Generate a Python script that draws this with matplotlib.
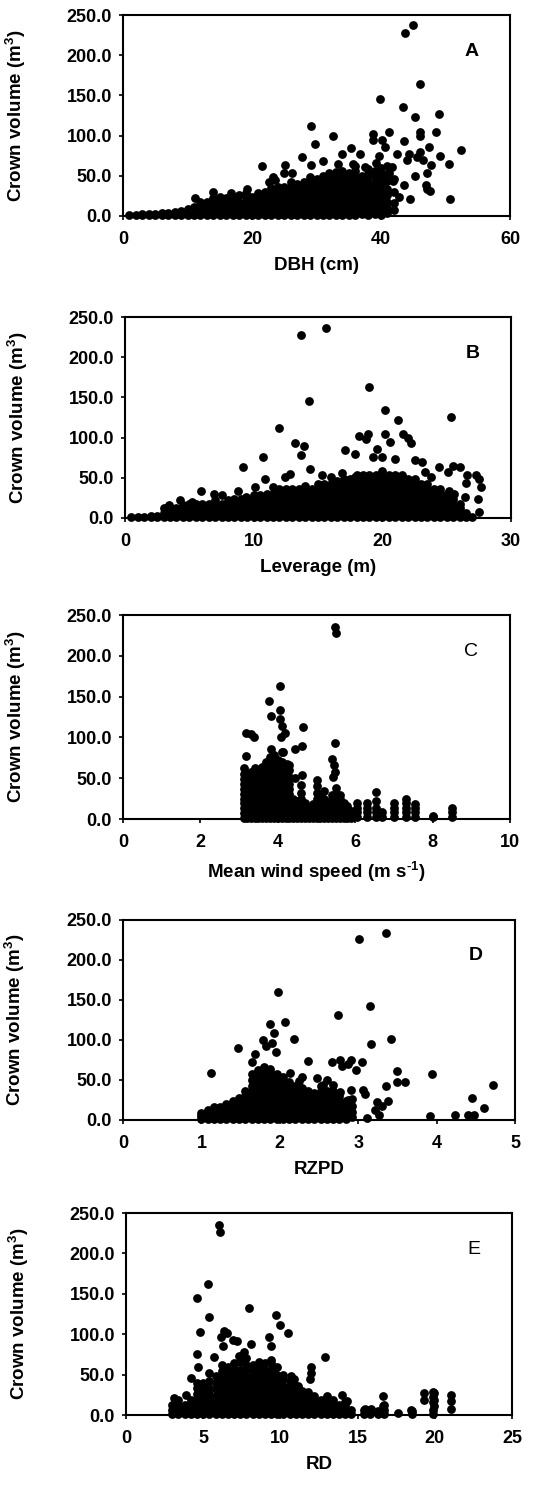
import matplotlib.pyplot as plt
from matplotlib.ticker import FormatStrFormatter

plt.rcParams['font.family'] = ['Liberation Sans', 'DejaVu Sans']
plt.rcParams['font.weight'] = 'bold'
plt.rcParams['mathtext.fontset'] = 'custom'
plt.rcParams['mathtext.rm'] = 'Liberation Sans:bold'
plt.rcParams['mathtext.bf'] = 'Liberation Sans:bold'
plt.rcParams['mathtext.default'] = 'rm'
plt.rcParams['axes.unicode_minus'] = False

# ---- A: DBH (cm) ----
dbh_cols = [1, 2, 3, 4, 5, 6, 7, 8, 9, 10, 11, 12, 13, 14, 15, 16, 17, 18, 19, 20, 21,
            22, 23, 24, 25, 26, 27, 28, 29, 30, 31, 32, 33, 34, 35, 36, 37, 38, 39, 40, 41, 42]
dbh_stack = [[1], [1], [1, 2], [1, 3], [1, 3], [1, 4], [1, 4], [1, 5], [1, 6], [1, 5, 9],
             [1, 6, 11], [1, 6, 12, 18], [1, 6, 12, 17], [1, 6, 12, 18, 22], [1, 6, 12, 18, 24],
             [1, 6, 12, 18, 23], [1, 6, 12, 18, 24], [1, 6, 12, 18, 26], [1, 6, 12, 18, 24, 28],
             [1, 6, 12, 18, 24], [1, 6, 12, 18, 24, 28], [1, 6, 12, 18, 24, 30],
             [1, 6, 12, 18, 24, 30, 35], [1, 6, 12, 18, 24, 30, 36], [1, 6, 12, 18, 24, 30, 36],
             [1, 6, 12, 18, 24, 30, 36, 42], [1, 6, 12, 18, 24, 30, 36, 40],
             [1, 6, 12, 18, 24, 30, 36, 42], [1, 6, 12, 18, 24, 30, 36, 42, 48],
             [1, 6, 12, 18, 24, 30, 36, 42, 46], [1, 6, 12, 18, 24, 30, 36, 42, 50],
             [1, 6, 12, 18, 24, 30, 36, 42, 48, 54], [1, 6, 12, 18, 24, 30, 36, 42, 48, 55],
             [1, 6, 12, 18, 24, 30, 36, 42, 48, 56], [1, 6, 12, 18, 24, 30, 36, 42, 48, 54],
             [1, 6, 12, 18, 24, 30, 36, 42, 48, 56, 62], [3, 8, 14, 20, 26, 32, 38, 44, 50],
             [1, 6, 12, 18, 24, 30, 36, 44, 52, 58], [2, 8, 14, 20, 26, 32, 40, 48, 56],
             [1, 6, 12, 18, 24, 30, 38, 46, 54, 60], [4, 10, 18, 26, 34, 44, 52, 62], [8, 16, 30, 46]]
dbh_out = [43.7, 45.0, 46.1, 39.8, 43.4, 45.3, 49.0, 29.1, 32.5, 29.8, 38.7, 38.7, 40.2, 41.3,
           46.1, 46.1, 48.5, 43.5, 40.6, 47.5, 52.4, 49.1, 50.6, 47.8, 47.2, 45.3, 43.6, 46.9,
           47.6, 47.2, 42.8, 44.5, 50.7, 45.6, 44.4, 44.0, 46.5, 46.0, 42.5, 41.7, 41.3, 41.9,
           39.7, 39.2, 27.8, 25.1, 21.6, 23.2, 22.7, 23.6, 29.1, 31.0, 33.9, 35.3, 36.8, 33.4,
           35.7, 37.5, 26.2, 25.0, 14.0, 19.2, 16.7, 11.2]
vol_a_out = [228, 237, 164, 146, 135, 123, 127, 112, 99, 89, 102, 94, 95, 104, 104, 99, 104, 93,
             86, 86, 82, 75, 65, 63, 54, 50, 38, 38, 31, 33, 24, 21, 21, 73, 77, 70, 70, 79, 77,
             61, 53, 43, 75, 66, 74, 64, 62, 49, 42, 45, 63, 68, 77, 84, 77, 65, 65, 61, 53, 53,
             30, 34, 28, 22]

# ---- B: Leverage (m) ----
lev_cols = [0.5, 1.0, 1.5, 2.0, 2.5, 3.0, 3.5, 4.0, 4.5, 5.0, 5.5, 6.0, 6.5, 7.0, 7.5, 8.0, 8.5,
            9.0, 9.5, 10.0, 10.5, 11.0, 11.5, 12.0, 12.5, 13.0, 13.5, 14.0, 14.5, 15.0, 15.5,
            16.0, 16.5, 17.0, 17.5, 18.0, 18.5, 19.0, 19.5, 20.0, 20.5, 21.0, 21.5, 22.0, 22.5,
            23.0, 23.5, 24.0, 24.5, 25.0, 25.5, 26.0, 26.5, 27.0]
lev_stack = [[1], [1], [1], [1, 3], [1, 3], [1, 6, 12], [1, 6, 12], [1, 6, 12], [1, 6, 12, 16],
             [1, 6, 12, 18], [1, 6, 12, 18], [1, 6, 12, 18], [1, 6, 12, 18], [1, 6, 12, 18, 22],
             [1, 6, 12, 18], [1, 6, 12, 18, 22], [1, 6, 12, 18, 24], [1, 6, 12, 18, 24],
             [1, 6, 12, 18, 24], [1, 6, 12, 18, 24, 28], [1, 6, 12, 18, 24, 28],
             [1, 6, 12, 18, 24, 30], [1, 6, 12, 18, 24, 30], [1, 6, 12, 18, 24, 30, 36],
             [1, 6, 12, 18, 24, 30, 36], [1, 6, 12, 18, 24, 30, 36], [1, 6, 12, 18, 24, 30, 36],
             [1, 6, 12, 18, 24, 30, 36, 40], [1, 6, 12, 18, 24, 30, 36],
             [1, 6, 12, 18, 24, 30, 36, 42], [1, 6, 12, 18, 24, 30, 36, 42],
             [1, 6, 12, 18, 24, 30, 36, 42], [1, 6, 12, 18, 24, 30, 36, 42, 46],
             [1, 6, 12, 18, 24, 30, 36, 42, 48], [1, 6, 12, 18, 24, 30, 36, 42, 48],
             [1, 6, 12, 18, 24, 30, 36, 42, 48, 54], [1, 6, 12, 18, 24, 30, 36, 42, 48, 54],
             [1, 6, 12, 18, 24, 30, 36, 42, 48, 54], [1, 6, 12, 18, 24, 30, 36, 42, 48, 54],
             [1, 6, 12, 18, 24, 30, 36, 42, 48, 54, 58], [1, 6, 12, 18, 24, 30, 36, 42, 48, 54],
             [1, 6, 12, 18, 24, 30, 36, 42, 48, 54], [1, 6, 12, 18, 24, 30, 36, 42, 48, 54],
             [1, 6, 12, 18, 24, 30, 36, 42, 48], [1, 6, 12, 18, 24, 30, 36, 42, 48],
             [1, 6, 12, 18, 24, 30, 36, 42], [1, 6, 12, 18, 24, 30, 36, 42],
             [1, 6, 12, 18, 24, 30, 36], [1, 6, 12, 18, 24, 30, 36], [1, 6, 12, 18, 24, 30],
             [1, 6, 12, 18, 24], [1, 6, 12, 18], [1, 6], [1]]
lev_out = [13.7, 15.6, 14.3, 12.0, 19.0, 20.2, 21.2, 25.3, 9.2, 10.7, 13.2, 13.9, 13.7, 18.9,
           18.2, 18.7, 20.2, 20.6, 21.6, 22.0, 22.2, 19.6, 17.9, 17.1, 19.3, 20.0, 21.0, 22.5,
           23.1, 14.4, 12.4, 12.8, 5.9, 6.9, 7.5, 8.8, 9.4, 10.1, 10.9, 11.5, 15.3, 16.0, 16.9,
           24.4, 25.1, 25.5, 26.0, 26.6, 27.3, 27.5, 27.7, 27.4, 27.5, 26.5, 26.4, 25.2, 25.6,
           23.8, 23.3, 17.6, 17.9, 4.3, 5.2, 3.4]
vol_b_out = [228, 236, 146, 112, 163, 134, 122, 126, 63, 76, 93, 89, 78, 104, 102, 98, 105, 94,
             105, 99, 93, 86, 79, 84, 76, 76, 74, 72, 70, 61, 51, 55, 34, 30, 29, 34, 26, 39, 49,
             39, 54, 51, 56, 63, 57, 65, 63, 53, 53, 48, 39, 24, 8, 43, 26, 34, 30, 51, 57, 45,
             51, 22, 20, 16]

# ---- C: Mean wind speed (m/s) ----
wind_cols = [3.12, 3.2, 3.3, 3.4, 3.5, 3.6, 3.7, 3.8, 3.9, 4.0, 4.1, 4.2, 4.3, 4.4, 4.5, 4.6,
             4.7, 4.8, 4.9, 5.0, 5.1, 5.2, 5.3, 5.4, 5.5, 5.6, 5.7, 5.8, 5.9, 6.05, 6.3, 6.55,
             6.7, 7.0, 7.3, 7.55, 8.0, 8.5]
wind_stack = [[1, 7, 13, 19, 25, 31, 37, 43, 49, 55, 62], [1, 7, 13, 19, 25, 31, 37, 43, 49, 55],
              [1, 7, 13, 19, 25, 31, 37, 43, 50, 58], [1, 7, 13, 19, 25, 31, 37, 43, 49, 55, 62],
              [1, 7, 13, 19, 25, 31, 37, 43, 49, 56], [1, 7, 13, 19, 25, 31, 37, 43, 49, 55, 64],
              [1, 7, 13, 19, 25, 31, 37, 43, 49, 55, 62, 70],
              [1, 7, 13, 19, 25, 31, 37, 43, 49, 55, 62, 70, 76],
              [1, 7, 13, 19, 25, 31, 37, 43, 49, 55, 62, 70, 78],
              [1, 7, 13, 19, 25, 31, 37, 43, 49, 55, 62, 72],
              [1, 7, 13, 19, 25, 31, 37, 43, 49, 55, 62, 70, 82],
              [1, 7, 13, 19, 25, 31, 37, 43, 49, 55, 66], [1, 7, 13, 19, 25, 31, 37, 43, 52, 60],
              [1, 7, 13, 19, 25], [1, 7, 13, 19, 22], [1, 7, 13, 19, 25, 32, 42], [1, 7, 13, 20],
              [1, 7, 14], [1, 7, 13, 18], [1, 7, 13, 19, 25, 32, 40, 48], [1, 7, 13, 19, 25, 30],
              [1, 7, 13, 19, 25, 34], [1, 7, 13, 18], [1, 7, 13, 19, 25, 30],
              [1, 7, 13, 19, 25, 31, 38], [1, 7, 13, 19, 25, 30], [1, 7, 13, 20], [1, 7, 13, 16],
              [1, 6, 10], [2, 8, 14, 20], [2, 8, 14, 20], [2, 8, 14, 22, 33], [2, 8],
              [2, 8, 14, 20], [2, 8, 14, 20, 24], [2, 8, 14, 18], [2, 4], [2, 8, 14]]
wind_out = [5.48, 5.50, 4.06, 3.76, 3.82, 4.06, 4.06, 4.10, 4.19, 4.08, 4.64, 3.18, 3.30, 3.38,
            4.44, 3.82, 4.62, 5.48, 3.18, 4.44, 4.62, 5.41, 5.46, 5.43, 5.48, 4.14, 4.23, 4.30]
vol_c_out = [235, 228, 163, 145, 126, 134, 122, 114, 105, 101, 113, 106, 104, 101, 86, 86, 89,
             93, 77, 50, 54, 74, 66, 52, 58, 82, 67, 66]

# ---- D: RZPD ----
rzpd_cols = [1.0, 1.08, 1.16, 1.24, 1.32, 1.40, 1.48, 1.56, 1.64, 1.72, 1.80, 1.88, 1.96, 2.04,
             2.12, 2.20, 2.28, 2.36, 2.44, 2.52, 2.60, 2.68, 2.76, 2.84, 2.92]
rzpd_stack = [[1, 5, 9], [1, 6, 12], [1, 6, 12, 16], [1, 6, 12, 16], [1, 6, 12, 18],
              [1, 6, 12, 18, 24], [1, 6, 12, 18, 24, 28], [1, 6, 12, 18, 24, 30, 36],
              [1, 6, 12, 18, 24, 30, 36, 42, 50, 58], [1, 6, 12, 18, 24, 30, 36, 42, 48, 56, 62],
              [1, 6, 12, 18, 24, 30, 36, 42, 48, 54, 60, 66],
              [1, 6, 12, 18, 24, 30, 36, 42, 48, 54, 60, 64],
              [1, 6, 12, 18, 24, 30, 36, 42, 48, 54, 58], [1, 6, 12, 18, 24, 30, 36, 42, 48, 54],
              [1, 6, 12, 18, 24, 30, 36, 42, 48], [1, 6, 12, 18, 24, 30, 36, 42],
              [1, 6, 12, 18, 24, 30, 36, 40], [1, 6, 12, 18, 24, 30, 36],
              [1, 6, 12, 18, 24, 30, 34], [1, 6, 12, 18, 24, 30, 36, 42],
              [1, 6, 12, 18, 24, 30, 36], [1, 6, 12, 18, 24, 30, 36, 44], [1, 6, 12, 18, 24, 30],
              [1, 6, 12, 18, 24], [4, 10, 18, 26]]
rzpd_out = [3.01, 3.35, 1.98, 3.15, 2.74, 1.88, 2.07, 1.93, 1.47, 2.18, 3.16, 3.42, 1.12, 1.82,
            1.79, 1.90, 1.68, 1.65, 1.95, 2.36, 2.67, 2.77, 2.87, 2.91, 2.97, 3.05, 2.79, 3.49,
            3.49, 3.60, 3.35, 3.38, 3.94, 3.92, 4.24, 4.40, 4.48, 4.45, 4.60, 4.72, 3.24, 3.21,
            3.30, 3.26, 3.11, 3.06, 3.09, 2.91, 2.77, 2.87, 2.60, 2.55, 2.47, 2.24, 2.28, 2.13,
            1.31]
vol_d_out = [226, 234, 160, 142, 131, 120, 123, 109, 90, 101, 95, 101, 59, 92, 100, 96, 82, 73,
             85, 74, 72, 75, 70, 75, 63, 72, 67, 61, 47, 47, 42, 24, 58, 5, 6, 6, 6, 27, 15, 44,
             23, 12, 17, 6, 3, 37, 33, 37, 35, 25, 50, 44, 53, 49, 54, 59, 20]

# ---- E: RD ----
rd_cols = [3.0, 3.4, 3.8, 4.2, 4.6, 5.0, 5.4, 5.8, 6.2, 6.6, 7.0, 7.4, 7.8, 8.2, 8.6, 9.0, 9.4,
           9.8, 10.2, 10.6, 11.0, 11.4, 11.8, 12.2, 12.6, 13.0, 13.4, 13.8, 14.2, 14.6, 15.4,
           15.8, 16.3, 16.7, 18.5, 19.9]
rd_stack = [[1, 6, 12], [1, 6, 12, 18], [1, 6, 12], [1, 6, 12, 18], [1, 6, 12, 18, 26, 34, 40],
            [1, 6, 12, 18, 24, 32, 40], [1, 6, 12, 18, 26, 34, 42, 52],
            [1, 6, 12, 18, 24, 32, 40, 48], [1, 6, 12, 18, 24, 30, 38, 46, 54, 62],
            [1, 6, 12, 18, 24, 30, 36, 44, 52, 60], [1, 6, 12, 18, 24, 30, 36, 42, 50, 58, 64],
            [1, 6, 12, 18, 24, 30, 36, 42, 48, 56, 66],
            [1, 6, 12, 18, 24, 30, 36, 42, 48, 56, 62, 70],
            [1, 6, 12, 18, 24, 30, 36, 42, 48, 54, 62],
            [1, 6, 12, 18, 24, 30, 36, 42, 48, 54, 62, 66],
            [1, 6, 12, 18, 24, 30, 36, 42, 48, 56, 64],
            [1, 6, 12, 18, 24, 30, 36, 42, 48, 56, 64, 68],
            [1, 6, 12, 18, 24, 30, 36, 42, 50, 60], [1, 6, 12, 18, 24, 30, 36, 44, 50],
            [1, 6, 12, 18, 24, 30, 36, 42], [1, 6, 12, 18, 24, 30, 36], [1, 6, 12, 18, 24, 30],
            [1, 6, 12, 18, 24, 28], [1, 6, 12, 18, 24], [1, 6, 12, 18], [1, 6, 12, 18, 24],
            [1, 6, 12, 18], [1, 6, 12], [1, 6, 12, 16], [1, 6], [1, 6], [1, 6], [1, 5],
            [1, 6, 12], [1, 5], [1, 6, 16, 22, 28]]
rd_out = [6.03, 6.08, 5.34, 4.59, 7.97, 9.74, 9.98, 5.39, 4.78, 6.36, 6.57, 6.14, 10.49, 9.27,
          9.37, 6.94, 7.18, 8.08, 12.89, 4.63, 4.68, 5.71, 6.25, 11.96, 11.96, 11.90, 14.0,
          16.66, 16.66, 19.33, 19.33, 19.93, 19.93, 19.93, 21.08, 21.08, 21.08, 17.63, 18.49,
          15.45, 15.9, 16.3, 4.2, 3.88, 3.12, 10.67, 10.9, 11.16, 9.59, 9.42, 7.33, 7.65,
          14.33, 14.2]
vol_e_out = [235, 227, 162, 145, 133, 124, 111, 121, 103, 104, 101, 97, 101, 97, 85, 93, 91, 88,
             72, 75, 60, 72, 85, 60, 52, 44, 25, 23, 11, 19, 27, 27, 19, 11, 25, 17, 7, 3, 6, 8,
             7, 3, 46, 25, 21, 48, 44, 36, 56, 48, 73, 78, 17, 7]


def points(cols, stack, x_out, y_out):
    xs = [c for c, s in zip(cols, stack) for _ in s] + list(x_out)
    ys = [v for s in stack for v in s] + list(y_out)
    return xs, ys


panels = [
    (points(dbh_cols, dbh_stack, dbh_out, vol_a_out), 'DBH (cm)', [0, 20, 40, 60], 'A', 'bold',
     [123, 15, 510, 216]),
    (points(lev_cols, lev_stack, lev_out, vol_b_out), 'Leverage (m)', [0, 10, 20, 30], 'B', 'bold',
     [125, 317, 511, 518]),
    (points(wind_cols, wind_stack, wind_out, vol_c_out), r'Mean wind speed (m s$^{\text{-1}}$)',
     [0, 2, 4, 6, 8, 10], 'C', 'normal', [123, 615, 510, 819]),
    (points(rzpd_cols, rzpd_stack, rzpd_out, vol_d_out), 'RZPD', [0, 1, 2, 3, 4, 5], 'D', 'bold',
     [123, 920, 515, 1120]),
    (points(rd_cols, rd_stack, rd_out, vol_e_out), 'RD', [0, 5, 10, 15, 20, 25], 'E', 'normal',
     [126, 1213, 512, 1415]),
]

W, H = 552, 1488
fig = plt.figure(figsize=(W / 100, H / 100), dpi=100)

for (xs, ys), xlabel, xticks, letter, lw, (l, t, r, b) in panels:
    ax = fig.add_axes([l / W, 1 - b / H, (r - l) / W, (b - t) / H])
    ax.scatter(xs, ys, s=40, c='black', marker='o', linewidths=0, clip_on=False, zorder=3)
    ax.set_xlim(xticks[0], xticks[-1])
    ax.set_ylim(0, 250)
    ax.set_xticks(xticks)
    ax.set_yticks([0, 50, 100, 150, 200, 250])
    ax.yaxis.set_major_formatter(FormatStrFormatter('%.1f'))
    ax.tick_params(axis='both', direction='out', length=3, width=1.2, labelsize=13)
    ax.tick_params(axis='x', pad=8)
    ax.tick_params(axis='y', pad=5)
    for sp in ax.spines.values():
        sp.set_linewidth(1.5)
        sp.set_color('black')
    ax.set_xlabel(xlabel, fontsize=13.5, fontweight='bold', labelpad=6)
    ax.set_ylabel('Crown volume (m$^3$)', fontsize=13.5, fontweight='bold')
    ax.yaxis.set_label_coords(-0.245, 0.5)
    ax.text(0.9, 0.82, letter, transform=ax.transAxes, fontsize=14, fontweight=lw,
            ha='center', va='center')

fig.savefig('out.png', dpi=100)
